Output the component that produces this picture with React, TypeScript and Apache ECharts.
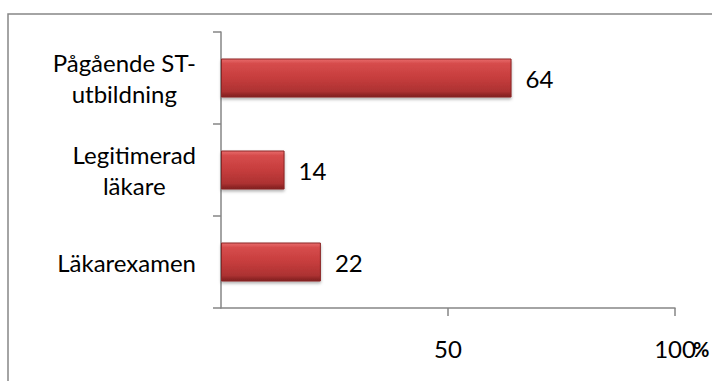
import React, { useEffect, useRef } from "react";
import * as echarts from "echarts";

const categories = ["Läkarexamen", "Legitimerad\nläkare", "Pågående ST-\nutbildning"];
const values = [22, 14, 64];
const xTicks = [0, 50, 100];
const unitLabel = "%";

const FONT = "Lato";
const FS = 24;

export default function App() {
  const ref = useRef<HTMLDivElement>(null);
  useEffect(() => {
    if (!ref.current) return;
    const chart = echarts.init(ref.current, undefined, { renderer: "svg" });
    chart.setOption({
      animation: false,
      backgroundColor: "#ffffff",
      grid: { left: 221, right: 37, top: 32, bottom: 73, containLabel: false },
      xAxis: {
        type: "value",
        min: xTicks[0],
        max: xTicks[xTicks.length - 1],
        interval: xTicks[1] - xTicks[0],
        axisLine: { show: true, lineStyle: { color: "#868686", width: 1.5 } },
        axisTick: { show: true, length: 8, lineStyle: { color: "#868686", width: 1.5 } },
        splitLine: { show: false },
        axisLabel: {
          showMinLabel: false,
          margin: 28,
          color: "#000",
          fontFamily: FONT,
          fontSize: FS,
        },
      },
      yAxis: {
        type: "category",
        data: categories,
        axisLine: { show: true, lineStyle: { color: "#868686", width: 1.5 } },
        axisTick: { show: true, length: 8, lineStyle: { color: "#868686", width: 1.5 } },
        axisLabel: {
          margin: 25,
          color: "#000",
          fontFamily: FONT,
          fontSize: FS,
          lineHeight: 31,
          formatter: (v: string) =>
            v
              .split("\n")
              .map((l) => "{c|" + l + "}")
              .join("\n"),
          rich: {
            c: { align: "center", fontFamily: FONT, fontSize: FS, lineHeight: 31, color: "#000" },
          },
        },
      },
      series: [
        {
          type: "bar",
          data: values,
          barWidth: 39,
          itemStyle: {
            color: new echarts.graphic.LinearGradient(0, 0, 0, 1, [
              { offset: 0, color: "#e86c6c" },
              { offset: 0.12, color: "#d64c4c" },
              { offset: 0.5, color: "#c63d3d" },
              { offset: 0.85, color: "#ad3232" },
              { offset: 1, color: "#7e2020" },
            ]),
            borderColor: "#8a2525",
            borderWidth: 1,
            shadowColor: "rgba(0,0,0,0.3)",
            shadowBlur: 3,
            shadowOffsetY: 2,
          },
          label: {
            show: true,
            position: "right",
            distance: 14,
            color: "#000",
            fontFamily: FONT,
            fontSize: FS,
          },
        },
      ],
      graphic: [
        {
          type: "rect",
          shape: { x: 8, y: 14, width: 760, height: 420 },
          style: { fill: "none", stroke: "#868686", lineWidth: 1.5 },
          silent: true,
        },
        {
          type: "text",
          x: 693,
          y: 339,
          style: { text: unitLabel, fontFamily: FONT, fontSize: 20, fontWeight: "bold", fill: "#000" },
        },
      ],
    });
    return () => chart.dispose();
  }, []);
  return (
    <div
      ref={ref}
      style={{ position: "fixed", left: 0, top: 0, width: 712, height: 381 }}
    />
  );
}
